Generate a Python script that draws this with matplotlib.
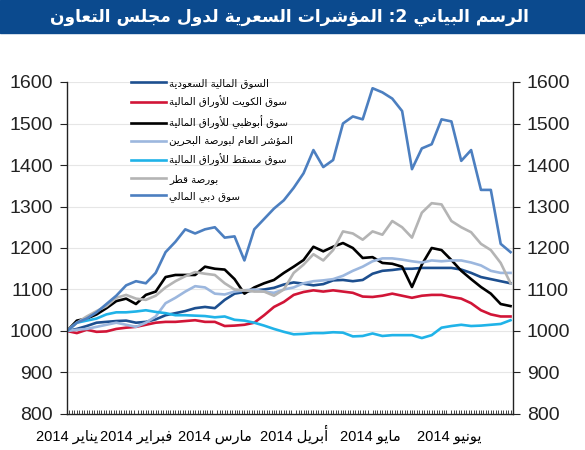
import re
import numpy as np
import pandas as pd
import matplotlib
matplotlib.use("Agg")
import matplotlib.pyplot as plt
import matplotlib.dates as mdates
from matplotlib.patches import Rectangle

# --- tiny arabic shaping (presentation forms + right-to-left order) ---
DUAL = {'ئ': 0xFE89, 'ب': 0xFE8F, 'ت': 0xFE95, 'ث': 0xFE99, 'ج': 0xFE9D,
        'ح': 0xFEA1, 'خ': 0xFEA5, 'س': 0xFEB1, 'ش': 0xFEB5, 'ص': 0xFEB9,
        'ض': 0xFEBD, 'ط': 0xFEC1, 'ظ': 0xFEC5, 'ع': 0xFEC9, 'غ': 0xFECD,
        'ف': 0xFED1, 'ق': 0xFED5, 'ك': 0xFED9, 'ل': 0xFEDD, 'م': 0xFEE1,
        'ن': 0xFEE5, 'ه': 0xFEE9, 'ي': 0xFEF1}
RIGHT = {'آ': 0xFE81, 'أ': 0xFE83, 'ؤ': 0xFE85, 'إ': 0xFE87, 'ا': 0xFE8D,
         'ة': 0xFE93, 'د': 0xFEA9, 'ذ': 0xFEAB, 'ر': 0xFEAD, 'ز': 0xFEAF,
         'و': 0xFEED, 'ى': 0xFEEF}
LAMALEF = {'آ': 0xFEF5, 'أ': 0xFEF7, 'إ': 0xFEF9, 'ا': 0xFEFB}


def ar(s):
    out = []
    i = 0
    while i < len(s):
        c = s[i]
        pj = i > 0 and s[i - 1] in DUAL
        if c == 'ل' and i + 1 < len(s) and s[i + 1] in LAMALEF:
            b = LAMALEF[s[i + 1]]
            out.append(chr(b + 1 if pj else b))
            i += 2
            continue
        nxt = s[i + 1] if i + 1 < len(s) else ''
        nj = nxt in DUAL or nxt in RIGHT
        if c in DUAL:
            b = DUAL[c]
            g = b + 3 if (pj and nj) else b + 1 if pj else b + 2 if nj else b
            out.append(chr(g))
        elif c in RIGHT:
            out.append(chr(RIGHT[c] + 1 if pj else RIGHT[c]))
        elif c == 'ء':
            out.append('\uFE80')
        else:
            out.append(c)
        i += 1
    toks = re.findall(r'[0-9]+|.', ''.join(out))
    return ''.join(toks[::-1])


# --- data (every 4 days from 1 Jan 2014) ---
dates = pd.date_range("2014-01-01", periods=46, freq="4D")

saudi = [1000, 1005, 1012, 1020, 1022, 1024, 1025, 1020, 1022, 1028,
         1038, 1043, 1048, 1055, 1058, 1055, 1075, 1090, 1094, 1098,
         1100, 1104, 1112, 1117, 1114, 1110, 1113, 1122, 1123, 1120,
         1123, 1138, 1145, 1147, 1150, 1150, 1152, 1152, 1152, 1152,
         1148, 1140, 1130, 1125, 1120, 1115]
kuwait = [1000, 995, 1003, 998, 999, 1005, 1008, 1010, 1015, 1020,
          1022, 1022, 1024, 1026, 1022, 1022, 1012, 1013, 1015, 1020,
          1038, 1058, 1070, 1087, 1094, 1098, 1095, 1098, 1095, 1092,
          1083, 1082, 1085, 1090, 1085, 1080, 1085, 1087, 1087, 1082,
          1078, 1067, 1050, 1040, 1035, 1035]
abudhabi = [1000, 1025, 1030, 1040, 1055, 1072, 1078, 1065, 1087, 1095,
            1130, 1135, 1135, 1135, 1155, 1150, 1148, 1125, 1090, 1105,
            1115, 1123, 1140, 1155, 1171, 1203, 1192, 1203, 1212, 1200,
            1176, 1178, 1164, 1162, 1155, 1106, 1160, 1200, 1195, 1171,
            1145, 1125, 1106, 1090, 1065, 1060]
bahrain = [1000, 1003, 1005, 1010, 1015, 1020, 1015, 1010, 1020, 1035,
           1067, 1080, 1095, 1108, 1105, 1090, 1088, 1095, 1098, 1100,
           1095, 1092, 1100, 1105, 1115, 1120, 1122, 1125, 1133, 1145,
           1155, 1168, 1175, 1175, 1172, 1168, 1165, 1170, 1168, 1170,
           1170, 1165, 1158, 1145, 1140, 1140]
muscat = [1000, 1020, 1025, 1030, 1040, 1045, 1045, 1047, 1050, 1046,
          1043, 1038, 1038, 1037, 1036, 1033, 1035, 1027, 1025, 1020,
          1013, 1005, 998, 992, 993, 995, 995, 997, 996, 987,
          988, 994, 988, 990, 990, 990, 983, 990, 1008, 1012,
          1015, 1012, 1013, 1015, 1017, 1026]
qatar = [1000, 1020, 1035, 1048, 1060, 1080, 1087, 1078, 1075, 1085,
         1105, 1120, 1132, 1142, 1138, 1135, 1115, 1100, 1098, 1095,
         1095, 1085, 1100, 1140, 1160, 1185, 1170, 1195, 1240, 1235,
         1220, 1240, 1232, 1265, 1250, 1225, 1285, 1308, 1305, 1265,
         1250, 1238, 1210, 1195, 1164, 1115]
dubai = [1000, 1020, 1030, 1045, 1065, 1085, 1110, 1120, 1115, 1140,
         1190, 1215, 1245, 1235, 1245, 1250, 1225, 1228, 1170, 1245,
         1270, 1295, 1315, 1345, 1380, 1436, 1395, 1412, 1500, 1517,
         1510, 1585, 1575, 1560, 1530, 1390, 1440, 1450, 1510, 1505,
         1410, 1436, 1340, 1340, 1210, 1190]

names = ["السوق المالية السعودية", "سوق الكويت للأوراق المالية",
         "سوق أبوظبي للأوراق المالية", "المؤشر العام لبورصة البحرين",
         "سوق مسقط للأوراق المالية", "بورصة قطر", "سوق دبي المالي"]
series = [saudi, kuwait, abudhabi, bahrain, muscat, qatar, dubai]
colors = ["#1d4f8f", "#d11537", "#000000", "#9cb7de", "#20b3e8",
          "#b4b4b4", "#4c7fc0"]

month_labels = ["يناير 2014", "فبراير 2014", "مارس 2014", "أبريل 2014",
                "مايو 2014", "يونيو 2014"]
month_pos = pd.to_datetime(["2014-01-01", "2014-01-29", "2014-03-02",
                            "2014-04-03", "2014-05-04", "2014-06-05"])

title = "الرسم البياني 2: المؤشرات السعرية لدول مجلس التعاون"

plt.rcParams["font.family"] = ["Liberation Sans", "DejaVu Sans"]

fig = plt.figure(figsize=(5.85, 4.5), dpi=100)
fig.patches.append(Rectangle((0, 1 - 33 / 450), 1, 33 / 450,
                             transform=fig.transFigure, color="#0b4a8e",
                             zorder=0))
fig.text(0.495, 1 - 17 / 450, ar(title), color="white", fontsize=12.3,
         fontweight="bold", ha="center", va="center",
         family=["DejaVu Sans"])

ax = fig.add_axes([67 / 585, 36 / 450, 446 / 585, 332 / 450])
for vals, c, n in zip(series, colors, names):
    ax.plot(dates, vals, color=c, lw=1.9, label=ar(n))

ax.set_ylim(800, 1600)
ax.set_yticks(np.arange(800, 1601, 100))
ax.set_xlim(pd.Timestamp("2014-01-01"), pd.Timestamp("2014-07-01"))
ax.grid(axis="y", color="#e6e6e6", lw=0.8)
ax.set_axisbelow(True)

ax.spines["top"].set_visible(False)
for s in ["left", "right", "bottom"]:
    ax.spines[s].set_color("#222222")
    ax.spines[s].set_linewidth(1.0)

ax.yaxis.set_ticks_position("both")
ax.tick_params(axis="y", which="major", direction="out", length=5,
               labelsize=14, labelright=True, pad=5, colors="#222222")
ax.set_xticks(month_pos)
ax.set_xticklabels([ar(m) for m in month_labels], fontsize=10.5)
for lbl in ax.get_xticklabels():
    lbl.set_va("baseline")
ax.tick_params(axis="x", which="major", length=0, pad=19)
ax.xaxis.set_minor_locator(mdates.DayLocator())
ax.tick_params(axis="x", which="minor", direction="in", length=3,
               width=0.6, color="#222222")

leg = ax.legend(loc="upper left", bbox_to_anchor=(131 / 585, 1 - 78 / 450),
                bbox_transform=fig.transFigure, frameon=False, fontsize=7.4,
                handlelength=3.4, handletextpad=0.3, labelspacing=0.7,
                borderpad=0, borderaxespad=0)
for t in leg.get_texts():
    t.set_family(["DejaVu Sans"])

fig.savefig("out.png", dpi=100)
